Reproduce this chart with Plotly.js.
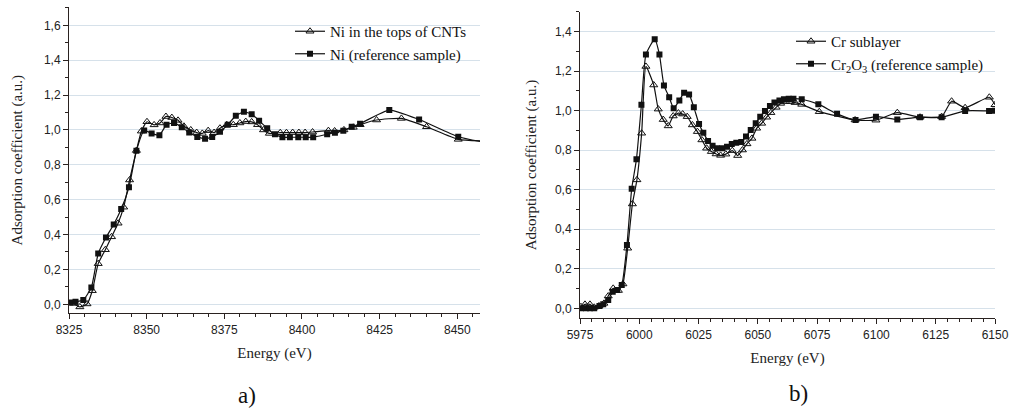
<!DOCTYPE html>
<html>
<head>
<meta charset="utf-8">
<script src="https://cdn.plot.ly/plotly-3.0.1.min.js"></script>
<style>
  html, body { margin: 0; padding: 0; background: #ffffff; }
  #chart { width: 1011px; height: 414px; }
</style>
</head>
<body>
<div id="chart"></div>
<script>
// ---------- Panel a) Ni K-edge ----------
const niCntEnergy = [8326.5, 8328.5, 8330.8, 8332.5, 8334.4, 8336.7, 8338.7, 8340.8, 8342.6, 8344.5, 8346.7, 8348.3, 8350.1, 8352.4, 8354.3, 8356.2, 8358.1, 8360.1, 8362.0, 8364.2, 8366.1, 8367.9, 8369.8, 8371.7, 8373.6, 8375.8, 8377.9, 8380.0, 8381.9, 8383.8, 8385.7, 8387.6, 8389.5, 8393.0, 8395.0, 8397.0, 8399.0, 8401.0, 8403.4, 8408.5, 8410.5, 8413.5, 8416.5, 8418.7, 8424.0, 8432.0, 8440.1, 8450.3, 8460.0];
const niCntValue  = [0.005, -0.015, 0.002, 0.078, 0.233, 0.313, 0.387, 0.465, 0.557, 0.713, 0.882, 0.993, 1.047, 1.029, 1.040, 1.077, 1.071, 1.055, 1.021, 1.000, 0.985, 0.980, 0.996, 0.985, 1.010, 1.030, 1.030, 1.040, 1.048, 1.046, 1.030, 1.000, 0.980, 0.984, 0.984, 0.985, 0.985, 0.985, 0.988, 0.996, 0.994, 1.000, 1.015, 1.030, 1.057, 1.066, 1.018, 0.946, 0.935];

const niRefEnergy = [8325.4, 8327.1, 8329.6, 8332.2, 8334.4, 8336.9, 8339.4, 8341.8, 8344.3, 8346.7, 8349.2, 8351.6, 8354.1, 8356.4, 8358.8, 8361.3, 8363.7, 8366.3, 8368.8, 8371.1, 8373.6, 8376.1, 8378.7, 8381.3, 8383.8, 8386.2, 8388.8, 8391.3, 8393.7, 8396.1, 8398.8, 8401.2, 8403.6, 8408.1, 8410.6, 8413.3, 8416.0, 8418.7, 8428.1, 8437.7, 8450.3, 8460.0];
const niRefValue  = [0.011, 0.015, 0.025, 0.097, 0.291, 0.383, 0.458, 0.546, 0.671, 0.881, 0.997, 0.980, 0.970, 1.030, 1.040, 1.015, 0.985, 0.960, 0.950, 0.960, 0.990, 1.030, 1.081, 1.104, 1.090, 1.053, 1.009, 0.975, 0.958, 0.958, 0.958, 0.958, 0.958, 0.975, 0.984, 0.996, 1.018, 1.036, 1.114, 1.060, 0.961, 0.925];

// ---------- Panel b) Cr K-edge ----------
const crSubEnergy = [5975.4, 5977.1, 5979.2, 5981.0, 5983.0, 5985.1, 5986.9, 5989.0, 5991.2, 5993.1, 5995.1, 5997.1, 5999.0, 6001.0, 6002.8, 6006.1, 6008.0, 6010.1, 6012.2, 6014.3, 6016.5, 6018.3, 6020.2, 6022.4, 6024.5, 6026.4, 6028.4, 6030.4, 6032.4, 6034.3, 6036.5, 6039.2, 6041.5, 6043.5, 6045.4, 6047.5, 6049.5, 6051.6, 6053.7, 6055.5, 6057.7, 6059.6, 6061.7, 6063.7, 6065.7, 6068.5, 6075.9, 6091.0, 6099.8, 6108.8, 6118.4, 6127.5, 6131.7, 6137.4, 6147.6, 6150.0];
const crSubValue  = [0.008, 0.020, 0.020, 0.005, 0.012, 0.025, 0.062, 0.101, 0.090, 0.123, 0.304, 0.528, 0.650, 0.886, 1.224, 1.130, 1.008, 0.955, 0.923, 0.973, 0.988, 0.983, 0.970, 0.928, 0.894, 0.852, 0.810, 0.793, 0.781, 0.774, 0.780, 0.798, 0.773, 0.801, 0.832, 0.860, 0.911, 0.936, 0.967, 0.990, 1.017, 1.037, 1.046, 1.046, 1.041, 1.032, 0.995, 0.953, 0.952, 0.990, 0.967, 0.970, 1.048, 1.015, 1.068, 1.030];

const crOxEnergy = [5975.4, 5977.5, 5979.2, 5981.0, 5983.2, 5984.8, 5986.9, 5988.8, 5990.7, 5992.6, 5994.8, 5996.8, 5998.8, 6000.9, 6002.8, 6006.5, 6008.5, 6010.4, 6012.6, 6014.5, 6016.9, 6018.9, 6021.0, 6023.0, 6025.2, 6027.0, 6029.0, 6030.9, 6032.8, 6035.0, 6037.0, 6039.0, 6040.9, 6043.0, 6045.0, 6047.0, 6049.1, 6051.0, 6053.0, 6055.1, 6057.0, 6059.1, 6061.0, 6063.0, 6065.0, 6068.5, 6075.5, 6083.4, 6091.2, 6099.8, 6108.8, 6118.4, 6127.5, 6137.4, 6147.5, 6150.0];
const crOxValue  = [0.000, 0.000, 0.000, 0.000, 0.012, 0.020, 0.042, 0.084, 0.093, 0.118, 0.320, 0.605, 0.754, 1.030, 1.284, 1.362, 1.284, 1.128, 1.068, 1.013, 1.051, 1.091, 1.082, 1.017, 0.933, 0.889, 0.847, 0.822, 0.810, 0.810, 0.818, 0.832, 0.838, 0.842, 0.869, 0.902, 0.936, 0.970, 0.999, 1.024, 1.041, 1.051, 1.058, 1.061, 1.061, 1.058, 1.033, 0.984, 0.953, 0.970, 0.956, 0.967, 0.967, 0.999, 0.999, 1.000];

const seriesNames = ["Ni in the tops of CNTs", "Ni (reference sample)", "Cr sublayer", "Cr<sub>2</sub>O<sub>3</sub> (reference sample)"];
const panelLabels = ["a)", "b)"];
const xTitle = "Energy (eV)";
const yTitle = "Adsorption coefficient (a.u.)";

const W = 1011, H = 414;
const SERIF = "Liberation Serif, Times New Roman, serif";
const SANS = "Liberation Sans, Arial, sans-serif";

function line(x, y, name, xa, ya, leg, open) {
  return {
    type: "scatter", mode: "lines+markers", x: x, y: y, name: name,
    xaxis: xa, yaxis: ya, legend: leg,
    line: { color: "#111111", width: 1.2, shape: "spline", smoothing: 0.5 },
    marker: open
      ? { symbol: "triangle-up-open", size: 7, color: "#111111", line: { color: "#111111", width: 1 } }
      : { symbol: "square", size: 6, color: "#111111", line: { color: "#111111", width: 0 } }
  };
}

const traces = [
  line(niCntEnergy, niCntValue, seriesNames[0], "x", "y", "legend", true),
  line(niRefEnergy, niRefValue, seriesNames[1], "x", "y", "legend", false),
  line(crSubEnergy, crSubValue, seriesNames[2], "x2", "y2", "legend2", true),
  line(crOxEnergy, crOxValue, seriesNames[3], "x2", "y2", "legend2", false)
];

function xAxis(domain, range, anchor) {
  return {
    domain: domain, range: range, anchor: anchor,
    showline: true, linecolor: "#2a2220", linewidth: 1,
    ticks: "outside", ticklen: 5, tickwidth: 1, tickcolor: "#2a2220",
    dtick: 25, tick0: 0, tickformat: "d",
    minor: { dtick: 5, ticks: "outside", ticklen: 3, tickcolor: "#2a2220", showgrid: false },
    showgrid: false, zeroline: false,
    tickfont: { family: SANS, size: 12, color: "#222222" },
    title: { text: xTitle, font: { family: SERIF, size: 15, color: "#222222" }, standoff: 11 }
  };
}
function yAxis(domain, range, anchor, standoff) {
  return {
    domain: domain, range: range, anchor: anchor,
    showline: true, linecolor: "#2a2220", linewidth: 1,
    ticks: "outside", ticklen: 5, tickwidth: 1, tickcolor: "#2a2220",
    dtick: 0.2, tick0: 0, tickformat: ".1f",
    minor: { dtick: 0.1, ticks: "outside", ticklen: 3, tickcolor: "#2a2220", showgrid: false },
    showgrid: true, gridcolor: "#d6e1ea", gridwidth: 1, zeroline: false,
    tickfont: { family: SANS, size: 12, color: "#222222" },
    title: { text: yTitle, font: { family: SERIF, size: 15, color: "#222222" }, standoff: standoff }
  };
}

const layout = {
  width: W, height: H,
  margin: { l: 0, r: 0, t: 0, b: 0 },
  paper_bgcolor: "#ffffff", plot_bgcolor: "#ffffff",
  separators: ", ",
  showlegend: true,
  xaxis: xAxis([69 / W, 480 / W], [8325, 8457.3], "y"),
  yaxis: yAxis([1 - 313.3 / H, 1 - 7 / H], [-0.0516, 1.705], "x", 17),
  xaxis2: xAxis([580 / W, 995 / W], [5975, 6150], "y2"),
  yaxis2: yAxis([1 - 318.3 / H, 1 - 11.7 / H], [-0.0506, 1.501], "x2", 14),
  legend: {
    x: 290 / W, y: 1 - 15 / H, xanchor: "left", yanchor: "top",
    bgcolor: "rgba(0,0,0,0)", borderwidth: 0,
    font: { family: SERIF, size: 15, color: "#111111" }, tracegroupgap: 0
  },
  legend2: {
    x: 791 / W, y: 1 - 25 / H, xanchor: "left", yanchor: "top",
    bgcolor: "rgba(0,0,0,0)", borderwidth: 0,
    font: { family: SERIF, size: 15, color: "#111111" }, tracegroupgap: 0
  },
  annotations: [
    { text: panelLabels[0], xref: "paper", yref: "paper", x: 247 / W, y: 1 - 395 / H,
      showarrow: false, xanchor: "center", yanchor: "middle",
      font: { family: SERIF, size: 23, color: "#111111" } },
    { text: panelLabels[1], xref: "paper", yref: "paper", x: 798 / W, y: 1 - 393 / H,
      showarrow: false, xanchor: "center", yanchor: "middle",
      font: { family: SERIF, size: 23, color: "#111111" } }
  ]
};

Plotly.newPlot("chart", traces, layout, { displayModeBar: false, staticPlot: true });
</script>
</body>
</html>
